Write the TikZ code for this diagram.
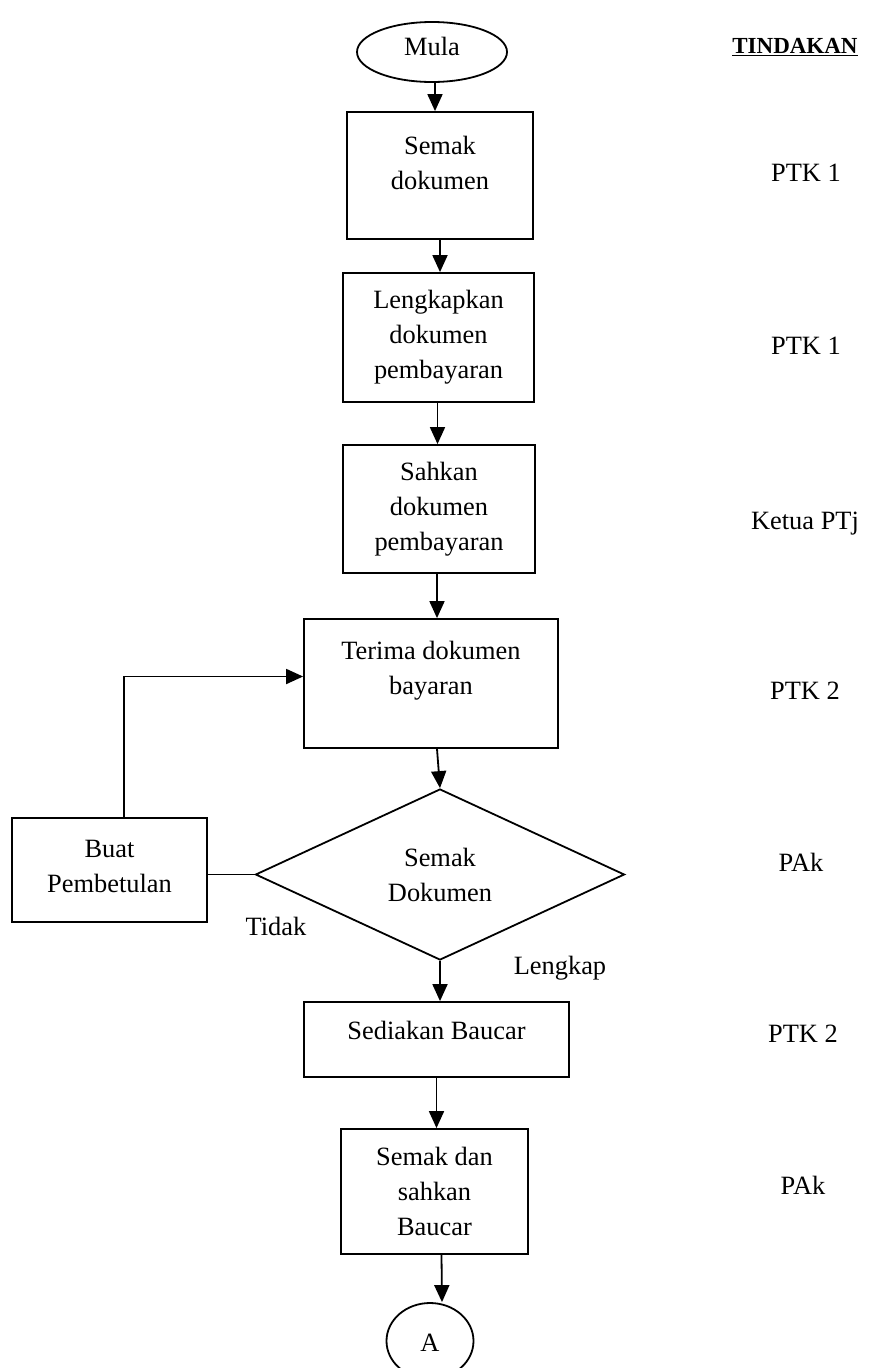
\documentclass[tikz,border=0pt]{standalone}
\usepackage{fontspec}
\setmainfont{Liberation Serif}
\usetikzlibrary{arrows.meta,shapes.geometric}
\begin{document}
\begin{tikzpicture}[x=1pt,y=-1pt,
  shp/.style={draw,line width=1.8pt,inner sep=0pt},
  boxn/.style={shp,rectangle,font=\fontsize{26.4}{35}\selectfont,align=center},
  lbl/.style={inner sep=0pt,font=\fontsize{26.4}{35}\selectfont,align=center},
  one/.style={inner sep=0pt,font=\fontsize{26.4}{35}\selectfont,text height=18pt,text depth=6pt},
  arr/.style={line width=1.8pt,-{Triangle[length=17pt,width=15pt]}},
  ln/.style={line width=1.8pt}]
\useasboundingbox (0,0) rectangle (886,1368);
% start
\node[shp,ellipse,minimum width=150pt,minimum height=60pt] (m) at (432,52) {};
\node[one] (mt) at (432,49) {Mula};
\node[inner sep=0pt,font=\fontsize{23}{28}\selectfont\bfseries] (tind) at (795,47) {\underline{TINDAKAN}};
% boxes
\node[boxn,minimum width=186pt,minimum height=127pt] (b1) at (440,175.5) {};
\node[lbl] (t1) at (440,163) {Semak\\dokumen};
\node[boxn,minimum width=191pt,minimum height=129pt] (b2) at (438.5,337.5) {Lengkapkan\\dokumen\\pembayaran};
\node[boxn,minimum width=192pt,minimum height=128pt] (b3) at (439,509) {Sahkan\\dokumen\\pembayaran};
\node[boxn,minimum width=254pt,minimum height=129pt] (b4) at (431,683.5) {};
\node[lbl] (t4) at (431,671) {Terima dokumen\\bayaran};
\node[shp,diamond,minimum width=369pt,minimum height=171pt,font=\fontsize{26.4}{35}\selectfont,align=center] (d) at (440,874.5) {Semak\\Dokumen};
\node[boxn,minimum width=195pt,minimum height=104pt] (bp) at (109.5,870) {};
\node[lbl] (tp) at (109.5,866) {Buat\\Pembetulan};
\node[boxn,minimum width=265pt,minimum height=75pt] (s) at (436.5,1039.5) {};
\node[one] (ts) at (436.5,1033) {Sediakan Baucar};
\node[boxn,minimum width=187pt,minimum height=125pt] (b7) at (434.5,1191.5) {Semak dan\\sahkan\\Baucar};
\node[shp,ellipse,minimum width=87pt,minimum height=76pt] (a) at (430,1341) {};
\node[one] (at) at (430,1345) {A};
% decision labels
\node[one] (tidak) at (276,929) {Tidak};
\node[one] (lengkap) at (560,968) {Lengkap};
% action column
\node[one] (r1) at (806,175) {PTK 1};
\node[one] (r2) at (806,348) {PTK 1};
\node[one] (r3) at (805,523) {Ketua PTj};
\node[one] (r4) at (805,693) {PTK 2};
\node[one] (r5) at (801,865) {PAk};
\node[one] (r6) at (803,1036) {PTK 2};
\node[one] (r7) at (803,1188) {PAk};
% connectors
\draw[arr] ([xshift=3pt]m.south) -- ([xshift=3pt]m.south |- b1.north);
\draw[arr] (b1.south) -- (b1.south |- b2.north);
\draw[arr] ([xshift=-1pt]b2.south) -- ([xshift=-1pt]b2.south |- b3.north);
\draw[arr] ([xshift=-2pt]b3.south) -- ([xshift=-2pt]b3.south |- b4.north);
\draw[arr] ([xshift=6pt]b4.south) -- (d.north);
\draw[ln] (d.west) -- (d.west -| bp.east);
\draw[arr] ([xshift=14.5pt]bp.north) |- ([yshift=7pt]b4.west);
\draw[arr] (d.south) -- (d.south |- s.north);
\draw[arr] (s.south) -- (s.south |- b7.north);
\draw[arr] ([xshift=7pt]b7.south) -- ([xshift=12pt]a.north);
\end{tikzpicture}
\end{document}
